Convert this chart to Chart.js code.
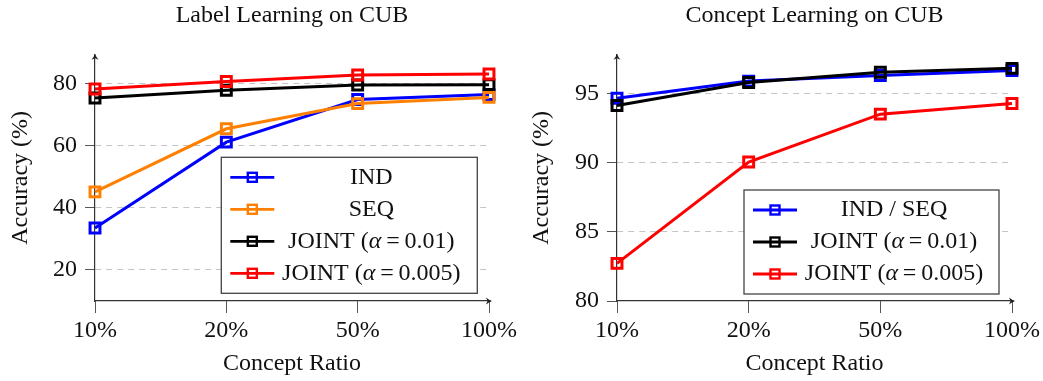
<!DOCTYPE html>
<html>
<head>
<meta charset="utf-8">
<script src="https://cdn.jsdelivr.net/npm/chart.js@4.4.0/dist/chart.umd.min.js"></script>
<style>
  html, body { margin: 0; padding: 0; background: #fff; }
  #wrap { position: relative; width: 1043px; height: 381px; }
  .panel { position: absolute; top: 0; height: 381px; }
  #panelLeft { left: 0; width: 521px; }
  #panelRight { left: 521px; width: 522px; }
</style>
</head>
<body>
<div id="wrap">
  <div class="panel" id="panelLeft"><canvas id="chartLabel"></canvas></div>
  <div class="panel" id="panelRight"><canvas id="chartConcept"></canvas></div>
</div>
<script>
// x categories (concept ratio)
const ratios = ['10%', '20%', '50%', '100%'];

// Label Learning on CUB
const labelInd = [33.5, 61.1, 74.8, 76.4];
const labelSeq = [45.1, 65.4, 73.5, 75.5];
const labelJoint01 = [75.3, 77.8, 79.5, 79.6];
const labelJoint005 = [78.2, 80.6, 82.7, 83.0];
const labelTicks = [20, 40, 60, 80];

// Concept Learning on CUB
const conceptIndSeq = [94.66, 95.9, 96.3, 96.66];
const conceptJoint01 = [94.13, 95.8, 96.54, 96.82];
const conceptJoint005 = [82.72, 90.05, 93.51, 94.28];
const conceptTicks = [80, 85, 90, 95];

const FONT = "'Liberation Serif', 'Times New Roman', serif";
const TXT = '#111';
const AXIS = '#333';
const GRID = '#c4c4c4';

function drawLabel(ctx, text, cx, cy) {
  // draw "JOINT (α=0.01)" with an italic alpha, centred on cx
  let parts = text.split('α');
  let pieces = [];
  parts.forEach((p, i) => {
    if (i > 0) pieces.push({t: 'α', f: 'italic 24px ' + FONT});
    if (p) pieces.push({t: p.replace('=', '\u2009=\u2009'), f: '24px ' + FONT});
  });
  let total = 0;
  pieces.forEach(p => { ctx.font = p.f; p.w = ctx.measureText(p.t).width; total += p.w; });
  let x = cx - total / 2;
  ctx.fillStyle = TXT;
  ctx.textAlign = 'left';
  ctx.textBaseline = 'middle';
  pieces.forEach(p => { ctx.font = p.f; ctx.fillText(p.t, x, cy); x += p.w; });
}

const boxLegend = {
  id: 'boxLegend',
  afterDraw(chart, args, opts) {
    const {ctx, chartArea} = chart;
    const sets = chart.data.datasets;
    const h = sets.length * opts.rowHeight + opts.pad * 2;
    const x0 = chartArea.right - opts.right - opts.width;
    const y0 = chartArea.bottom - opts.bottom - h;
    ctx.save();
    ctx.fillStyle = '#fff';
    ctx.fillRect(x0, y0, opts.width, h);
    ctx.strokeStyle = '#444';
    ctx.lineWidth = 1.3;
    ctx.strokeRect(x0, y0, opts.width, h);
    sets.forEach((ds, i) => {
      const cy = y0 + opts.pad + opts.rowHeight * (i + 0.5);
      ctx.strokeStyle = ds.borderColor;
      ctx.lineWidth = 2.8;
      ctx.beginPath();
      ctx.moveTo(x0 + 9, cy);
      ctx.lineTo(x0 + 53, cy);
      ctx.stroke();
      ctx.lineWidth = 2.4;
      ctx.strokeRect(x0 + 31 - 4.5, cy - 4.5, 9, 9);
      drawLabel(ctx, ds.label, x0 + opts.textCenter, cy);
    });
    ctx.restore();
  }
};

const axisArrows = {
  id: 'axisArrows',
  afterDraw(chart) {
    const {ctx, chartArea: a} = chart;
    ctx.save();
    ctx.fillStyle = '#222';
    ctx.strokeStyle = AXIS;
    ctx.lineWidth = 1.2;
    // extend x axis a bit and put arrow heads on both axes
    ctx.beginPath();
    ctx.moveTo(a.right, a.bottom);
    ctx.lineTo(a.right + 2, a.bottom);
    ctx.stroke();
    let tx = a.right + 3, ty = a.bottom;
    ctx.beginPath();
    ctx.moveTo(tx, ty);
    ctx.quadraticCurveTo(tx - 3, ty - 1, tx - 6, ty - 3.5);
    ctx.lineTo(tx - 4.5, ty);
    ctx.lineTo(tx - 6, ty + 3.5);
    ctx.quadraticCurveTo(tx - 3, ty + 1, tx, ty);
    ctx.fill();
    tx = a.left; ty = a.top - 1;
    ctx.beginPath();
    ctx.moveTo(tx, ty);
    ctx.quadraticCurveTo(tx - 1, ty + 3, tx - 3.5, ty + 6);
    ctx.lineTo(tx, ty + 4.5);
    ctx.lineTo(tx + 3.5, ty + 6);
    ctx.quadraticCurveTo(tx + 1, ty + 3, tx, ty);
    ctx.fill();
    ctx.restore();
  }
};

function lineSet(label, data, color, order) {
  return {
    label: label,
    data: data,
    borderColor: color,
    backgroundColor: color,
    borderWidth: 3,
    pointStyle: 'rect',
    pointRadius: 7,
    pointBorderWidth: 3,
    pointBorderColor: color,
    pointBackgroundColor: 'rgba(255,255,255,0)',
    tension: 0,
    clip: false,
    order: order
  };
}

function makeChart(id, title, datasets, yMin, yMax, yTicks, yWidth, padRight, legendOpts) {
  return new Chart(document.getElementById(id), {
    type: 'line',
    data: { labels: ratios, datasets: datasets },
    options: {
      responsive: true,
      maintainAspectRatio: false,
      animation: false,
      devicePixelRatio: 1,
      layout: { padding: { left: 0, right: padRight, top: 0, bottom: 0 } },
      plugins: {
        legend: { display: false },
        tooltip: { enabled: false },
        title: {
          display: true,
          text: title,
          fullSize: false,
          color: TXT,
          font: { family: FONT, size: 24, weight: 'normal' },
          padding: { top: 1, bottom: 25 }
        },
        boxLegend: legendOpts
      },
      scales: {
        x: {
          type: 'category',
          offset: false,
          grid: { drawOnChartArea: false, drawTicks: true, tickLength: 12, tickColor: '#555', tickWidth: 1 },
          border: { display: true, color: AXIS, width: 1.2 },
          ticks: { color: TXT, font: { family: FONT, size: 24 }, padding: 3, maxRotation: 0, autoSkip: false },
          title: { display: true, text: 'Concept Ratio', color: TXT, font: { family: FONT, size: 24 }, padding: { top: 0, bottom: 3 } },
          afterFit: s => { s.height = 80; }
        },
        y: {
          min: yMin,
          max: yMax,
          afterBuildTicks: s => { s.ticks = yTicks.map(v => ({ value: v })); },
          grid: {
            color: ctx => (ctx.tick && ctx.tick.value === yMin) ? 'rgba(0,0,0,0)' : GRID,
            lineWidth: 1,
            tickLength: 10,
            tickColor: '#555',
            tickWidth: 1
          },
          border: { display: true, color: AXIS, width: 1.2, dash: [6, 5] },
          ticks: { color: TXT, font: { family: FONT, size: 24 }, padding: 8 },
          title: { display: true, text: 'Accuracy (%)', color: TXT, font: { family: FONT, size: 24 }, padding: { top: 6, bottom: 0 } },
          afterFit: s => { s.width = yWidth; }
        }
      }
    },
    plugins: [boxLegend, axisArrows]
  });
}

makeChart('chartLabel', 'Label Learning on CUB', [
  lineSet('IND', labelInd, '#0000ff', 4),
  lineSet('SEQ', labelSeq, '#ff8000', 3),
  lineSet('JOINT (α=0.01)', labelJoint01, '#000000', 2),
  lineSet('JOINT (α=0.005)', labelJoint005, '#ff0000', 1)
], 10, 89.2, labelTicks, 95, 32,
  { width: 256, rowHeight: 32, pad: 4, right: 11.7, bottom: 7.7, textCenter: 150 });

makeChart('chartConcept', 'Concept Learning on CUB', [
  lineSet('IND / SEQ', conceptIndSeq, '#0000ff', 3),
  lineSet('JOINT (α=0.01)', conceptJoint01, '#000000', 2),
  lineSet('JOINT (α=0.005)', conceptJoint005, '#ff0000', 1)
], 80, 97.8, conceptTicks, 96, 31,
  { width: 255, rowHeight: 32, pad: 4, right: 13, bottom: 7, textCenter: 150 });
</script>
</body>
</html>
